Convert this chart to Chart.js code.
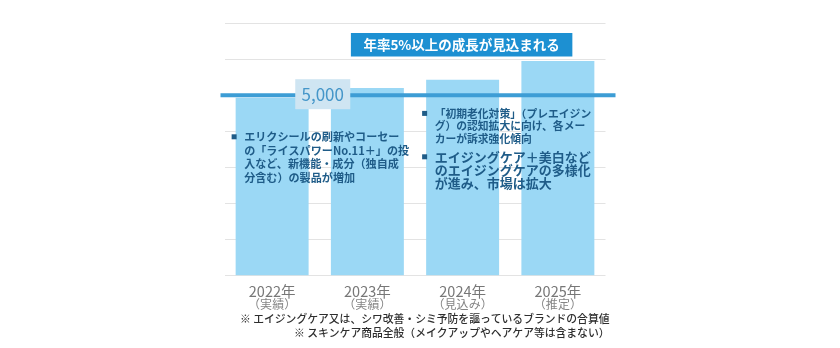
<!DOCTYPE html>
<html lang="ja">
<head>
<meta charset="utf-8">
<script src="https://cdn.jsdelivr.net/npm/chart.js@4"></script>
<style>
  html, body { margin: 0; padding: 0; background: #fff; }
  #wrap { width: 840px; height: 348px; }
</style>
</head>
<body>
<div id="wrap"><canvas id="c" width="840" height="348"></canvas></div>
<script>
// Market size by year (estimated units), with the 5,000 reference level
const years = ['2022年', '2023年', '2024年', '2025年'];
const yearNotes = ['（実績）', '（実績）', '（見込み）', '（推定）'];
const marketSize = [4930, 5200, 5430, 5950];
const benchmark = 5000;
const benchmarkLabel = '5,000';
const yTicks = [0, 1000, 2000, 3000, 4000, 5000, 6000, 7000];
const growthBanner = '年率5%以上の成長が見込まれる';
const pointsLeft = [
  'エリクシールの刷新やコーセー',
  'の「ライスパワーNo.11＋」の投',
  '入など、新機能・成分（独自成',
  '分含む）の製品が増加'
];
const pointsRightA = [
  '「初期老化対策」（プレエイジン',
  'グ）の認知拡大に向け、各メー',
  'カーが訴求強化傾向'
];
const pointsRightB = [
  'エイジングケア＋美白など',
  'のエイジングケアの多様化',
  'が進み、市場は拡大'
];
const footnotes = [
  '※ エイジングケア又は、シワ改善・シミ予防を謳っているブランドの合算値',
  '※ スキンケア商品全般（メイクアップやヘアケア等は含まない）'
];

const JP = '"Noto Sans CJK JP", "Noto Sans", sans-serif';
const NAVY = '#1f5c88';

function bulletBlock(ctx, lines, bx, tx, y0, lh, size) {
  ctx.fillStyle = NAVY;
  ctx.fillRect(bx - 2.5, y0 - 2.5, 5, 5);
  ctx.font = 'bold ' + size + 'px ' + JP;
  ctx.textAlign = 'left';
  ctx.textBaseline = 'middle';
  lines.forEach((s, i) => ctx.fillText(s, tx, y0 + i * lh));
}

const overlay = {
  id: 'overlay',
  afterDatasetsDraw(chart) {
    const { ctx, chartArea } = chart;
    const xs = chart.scales.x, ys = chart.scales.y;
    const cx = i => xs.getPixelForValue(i);
    ctx.save();

    // reference line at 5,000
    const ly = ys.getPixelForValue(benchmark);
    ctx.strokeStyle = '#3d9dd5';
    ctx.lineWidth = 4;
    ctx.beginPath();
    ctx.moveTo(chartArea.left - 4, ly);
    ctx.lineTo(chartArea.right + 10, ly);
    ctx.stroke();

    // value tag on the line
    const tagX = (cx(0) + cx(1)) / 2 + 3;
    ctx.fillStyle = '#cfe5f2';
    ctx.fillRect(tagX - 27.5, ly - 16, 55, 30);
    ctx.fillStyle = '#4596c9';
    ctx.font = '17px ' + JP;
    ctx.textAlign = 'center';
    ctx.textBaseline = 'middle';
    ctx.fillText(benchmarkLabel, tagX, ly - 1);

    // growth banner
    const bX = cx(2) - 1;
    ctx.font = 'bold 13.5px ' + JP;
    const bw = ctx.measureText(growthBanner).width + 25;
    ctx.fillStyle = '#1d90d2';
    ctx.fillRect(bX - bw / 2, 33, bw, 23.5);
    ctx.fillStyle = '#ffffff';
    ctx.fillText(growthBanner, bX, 45);

    // commentary
    bulletBlock(ctx, pointsLeft, cx(0) - 38, cx(0) - 28, 136.8, 13.7, 11.1);
    bulletBlock(ctx, pointsRightA, cx(2) - 38, cx(2) - 28, 113.4, 12.6, 10.8);
    bulletBlock(ctx, pointsRightB, cx(2) - 38, cx(2) - 28, 156.8, 13.3, 13);

    // category labels
    ctx.textAlign = 'center';
    ctx.textBaseline = 'middle';
    years.forEach((t, i) => {
      ctx.fillStyle = '#777777';
      ctx.font = '14.5px ' + JP;
      ctx.fillText(t, cx(i), chartArea.bottom + 15.5);
      ctx.fillStyle = '#858585';
      ctx.font = '12px ' + JP;
      ctx.fillText(yearNotes[i], cx(i), chartArea.bottom + 28.5);
    });

    // footnotes
    ctx.fillStyle = '#2e2e2e';
    ctx.font = '500 10.8px ' + JP;
    ctx.textAlign = 'right';
    footnotes.forEach((t, i) => ctx.fillText(t, chartArea.right + 4, chartArea.bottom + 43.6 + i * 13.4));

    ctx.restore();
  }
};

new Chart(document.getElementById('c'), {
  type: 'bar',
  data: {
    labels: years,
    datasets: [{
      data: marketSize,
      backgroundColor: '#9bd8f5',
      borderWidth: 0,
      categoryPercentage: 1,
      barPercentage: 0.766
    }]
  },
  options: {
    responsive: false,
    animation: false,
    devicePixelRatio: 1,
    layout: { padding: { left: 224.5, right: 234.5, top: 23, bottom: 72.3 } },
    plugins: { legend: { display: false }, tooltip: { enabled: false } },
    scales: {
      x: { display: false },
      y: {
        min: yTicks[0],
        max: yTicks[yTicks.length - 1],
        afterBuildTicks: s => { s.ticks = yTicks.map(v => ({ value: v })); },
        ticks: { display: false },
        border: { display: false },
        grid: { color: '#e3e3e3', lineWidth: 1, drawTicks: false }
      }
    }
  },
  plugins: [overlay]
});
</script>
</body>
</html>
